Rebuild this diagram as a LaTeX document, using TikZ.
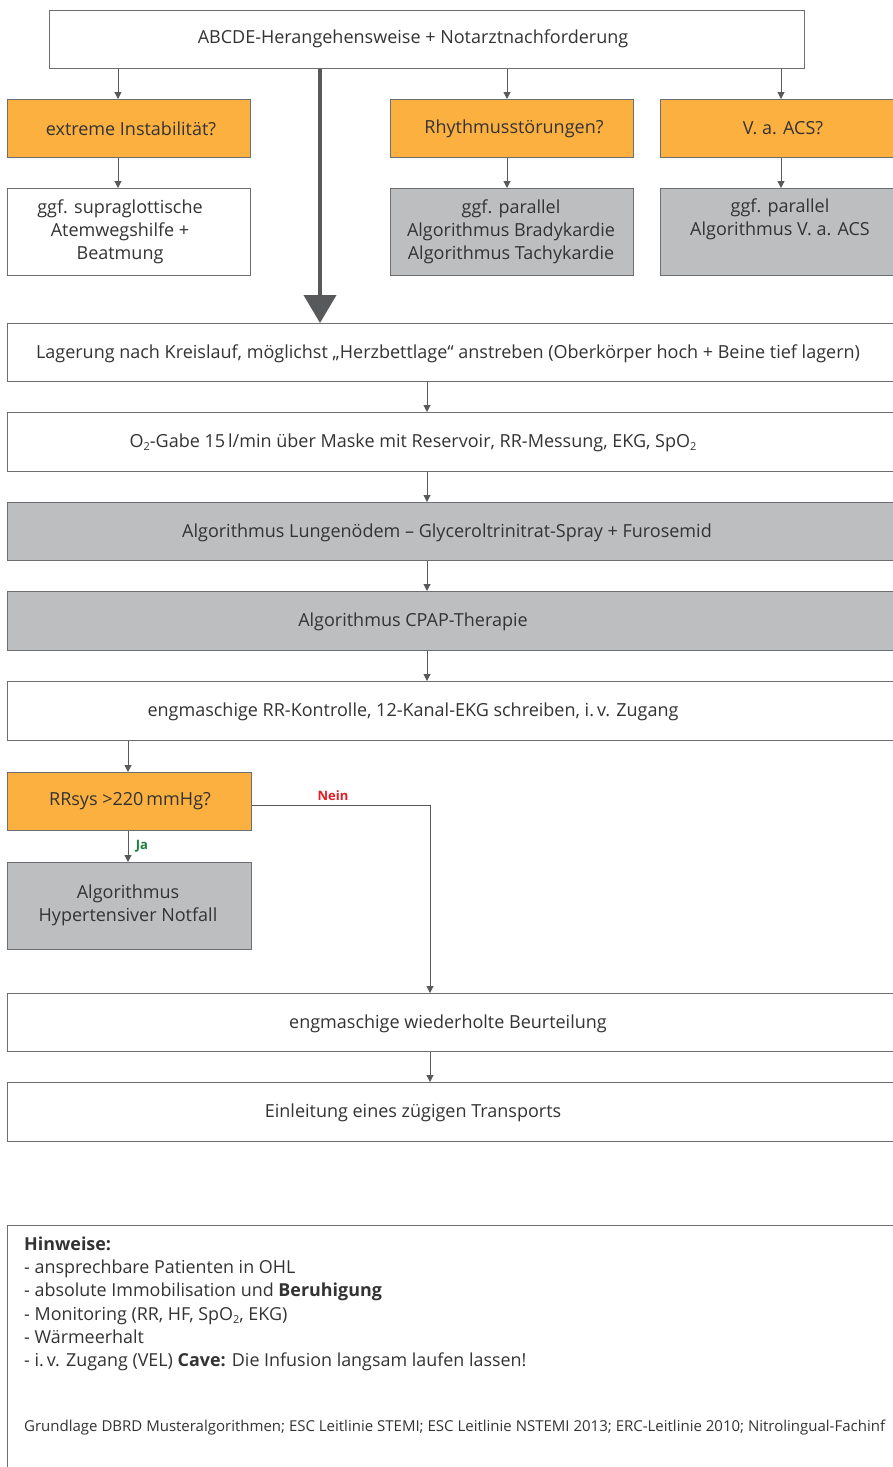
\documentclass[tikz,border=0pt]{standalone}
\usepackage{fontspec}
\setmainfont{Open Sans}
\usetikzlibrary{arrows.meta}
\definecolor{orangef}{HTML}{FBB040}
\definecolor{grayf}{HTML}{BCBEC0}
\definecolor{bordc}{HTML}{6D6E71}
\definecolor{txtc}{HTML}{333333}
\definecolor{arrc}{HTML}{58595B}
\definecolor{neinc}{HTML}{E31E24}
\definecolor{jac}{HTML}{1A7F3C}
\newcommand{\bfs}{\fontsize{18}{23}\selectfont}
\newcommand{\subtwo}{\raisebox{-0.35ex}{\fontsize{11}{11}\selectfont 2}}
\begin{document}
\begin{tikzpicture}[x=1pt,y=-1pt,
  box/.style={draw=bordc, line width=1.1pt, inner sep=0pt, anchor=north west},
  wbox/.style={box, fill=white},
  obox/.style={box, fill=orangef},
  gbox/.style={box, fill=grayf},
  txt/.style={text=txtc, font=\bfs, align=center, inner sep=0pt, yshift=-1.5pt},
  arr/.style={draw=arrc, line width=1pt, -{Triangle[width=7pt,length=7pt]}},
  bigarr/.style={draw=arrc, line width=4pt, -{Triangle[width=32pt,length=28pt]}},
  lab/.style={font=\fontsize{13}{15}\selectfont\bfseries, inner sep=0pt}]
\useasboundingbox (0,0) rectangle (893,1467);
\clip (0,0) rectangle (893,1467);
% boxes
\node[wbox, minimum width=755pt, minimum height=58pt] (top) at (49,10) {};
\node[obox, minimum width=243pt, minimum height=58pt] (b1) at (7,99) {};
\node[obox, minimum width=243pt, minimum height=58pt] (b2) at (390,99) {};
\node[obox, minimum width=243pt, minimum height=58pt] (b3) at (660,99) {};
\node[wbox, minimum width=243pt, minimum height=87pt] (c1) at (7,188) {};
\node[gbox, minimum width=243pt, minimum height=87pt] (c2) at (390,188) {};
\node[gbox, minimum width=243pt, minimum height=87pt] (c3) at (660,188) {};
\node[wbox, minimum width=898pt, minimum height=58pt] (lag) at (7,323) {};
\node[wbox, minimum width=898pt, minimum height=59pt] (o2) at (7,412) {};
\node[gbox, minimum width=898pt, minimum height=58pt] (lung) at (7,502) {};
\node[gbox, minimum width=898pt, minimum height=59pt] (cpap) at (7,591) {};
\node[wbox, minimum width=898pt, minimum height=59pt] (rr) at (7,681) {};
\node[obox, minimum width=244pt, minimum height=58pt] (rrsys) at (7,772) {};
\node[gbox, minimum width=244pt, minimum height=87pt] (hyp) at (7,862) {};
\node[wbox, minimum width=898pt, minimum height=58pt] (beu) at (7,993) {};
\node[wbox, minimum width=898pt, minimum height=59pt] (einl) at (7,1082) {};
\node[wbox, minimum width=898pt, minimum height=300pt] (notes) at (7,1225) {};
% texts
\node[txt] (ttop) at (413,37) {ABCDE-Herangehensweise + Notarztnachforderung};
\node[txt] (tb1) at (131,127) {extreme Instabilität?};
\node[txt] (tb2) at (514,127) {Rhythmusstörungen?};
\node[txt] (tb3) at (783,127) {V. a. ACS?};
\node[txt] (tc1) at (120,230) {ggf. supraglottische\\Atemwegshilfe +\\Beatmung};
\node[txt] (tc2) at (511,230) {ggf. parallel\\Algorithmus Bradykardie\\Algorithmus Tachykardie};
\node[txt] (tc3) at (780,218) {ggf. parallel\\Algorithmus V. a. ACS};
\node[txt] (tlag) at (448,352) {Lagerung nach Kreislauf, möglichst „Herzbettlage“ anstreben (Oberkörper hoch + Beine tief lagern)};
\node[txt] (to2) at (413,441) {O\subtwo-Gabe 15\,l/min über Maske mit Reservoir, RR-Messung, EKG, SpO\subtwo};
\node[txt] (tlung) at (447,531) {Algorithmus Lungenödem – Glyceroltrinitrat-Spray + Furosemid};
\node[txt] (tcpap) at (413,620) {Algorithmus CPAP-Therapie};
\node[txt] (trr) at (413,710) {engmaschige RR-Kontrolle, 12-Kanal-EKG schreiben, i.\,v. Zugang};
\node[txt] (trrsys) at (130,800) {RRsys >220\,mmHg?};
\node[txt] (thyp) at (128,904) {Algorithmus\\Hypertensiver Notfall};
\node[txt] (tbeu) at (448,1022) {engmaschige wiederholte Beurteilung};
\node[txt] (teinl) at (413,1111) {Einleitung eines zügigen Transports};
\node[txt, align=left, anchor=north west, font=\fontsize{17.9}{23.3}\selectfont] (tnotes) at (24,1235)
  {\textbf{Hinweise:}\\
   - ansprechbare Patienten in OHL\\
   - absolute Immobilisation und \textbf{Beruhigung}\\
   - Monitoring (RR, HF, SpO\subtwo, EKG)\\
   - Wärmeerhalt\\
   - i.\,v. Zugang (VEL) \textbf{Cave:} Die Infusion langsam laufen lassen!};
\node[txt, anchor=base west, font=\fontsize{15}{17}\selectfont] (tsrc) at (24,1430)
  {Grundlage DBRD Musteralgorithmen; ESC Leitlinie STEMI; ESC Leitlinie NSTEMI 2013; ERC-Leitlinie 2010; Nitrolingual-Fachinf};
\node[lab, text=neinc] (nein) at (333,796) {Nein};
\node[lab, text=jac] (ja) at (142,846) {Ja};
% x coordinates for connectors
\coordinate (x1) at (118,0);
\coordinate (x2) at (507,0);
\coordinate (x3) at (781,0);
\coordinate (xbig) at (320,0);
\coordinate (xm) at (427,0);
\coordinate (xl) at (128,0);
\coordinate (xb) at (430,0);
% connectors
\draw[arr] (top.south -| x1) -- (b1.north -| x1);
\draw[arr] (top.south -| x2) -- (b2.north -| x2);
\draw[arr] (top.south -| x3) -- (b3.north -| x3);
\draw[arr] (b1.south -| x1) -- (c1.north -| x1);
\draw[arr] (b2.south -| x2) -- (c2.north -| x2);
\draw[arr] (b3.south -| x3) -- (c3.north -| x3);
\draw[bigarr] (top.south -| xbig) -- (lag.north -| xbig);
\draw[arr] (lag.south -| xm) -- (o2.north -| xm);
\draw[arr] (o2.south -| xm) -- (lung.north -| xm);
\draw[arr] (lung.south -| xm) -- (cpap.north -| xm);
\draw[arr] (cpap.south -| xm) -- (rr.north -| xm);
\draw[arr] (rr.south -| xl) -- (rrsys.north -| xl);
\draw[arr] (rrsys.south -| xl) -- (hyp.north -| xl);
\draw[arr] ([yshift=-4pt]rrsys.east) -| (beu.north -| xb);
\draw[arr] (beu.south -| xb) -- (einl.north -| xb);
\end{tikzpicture}
\end{document}
